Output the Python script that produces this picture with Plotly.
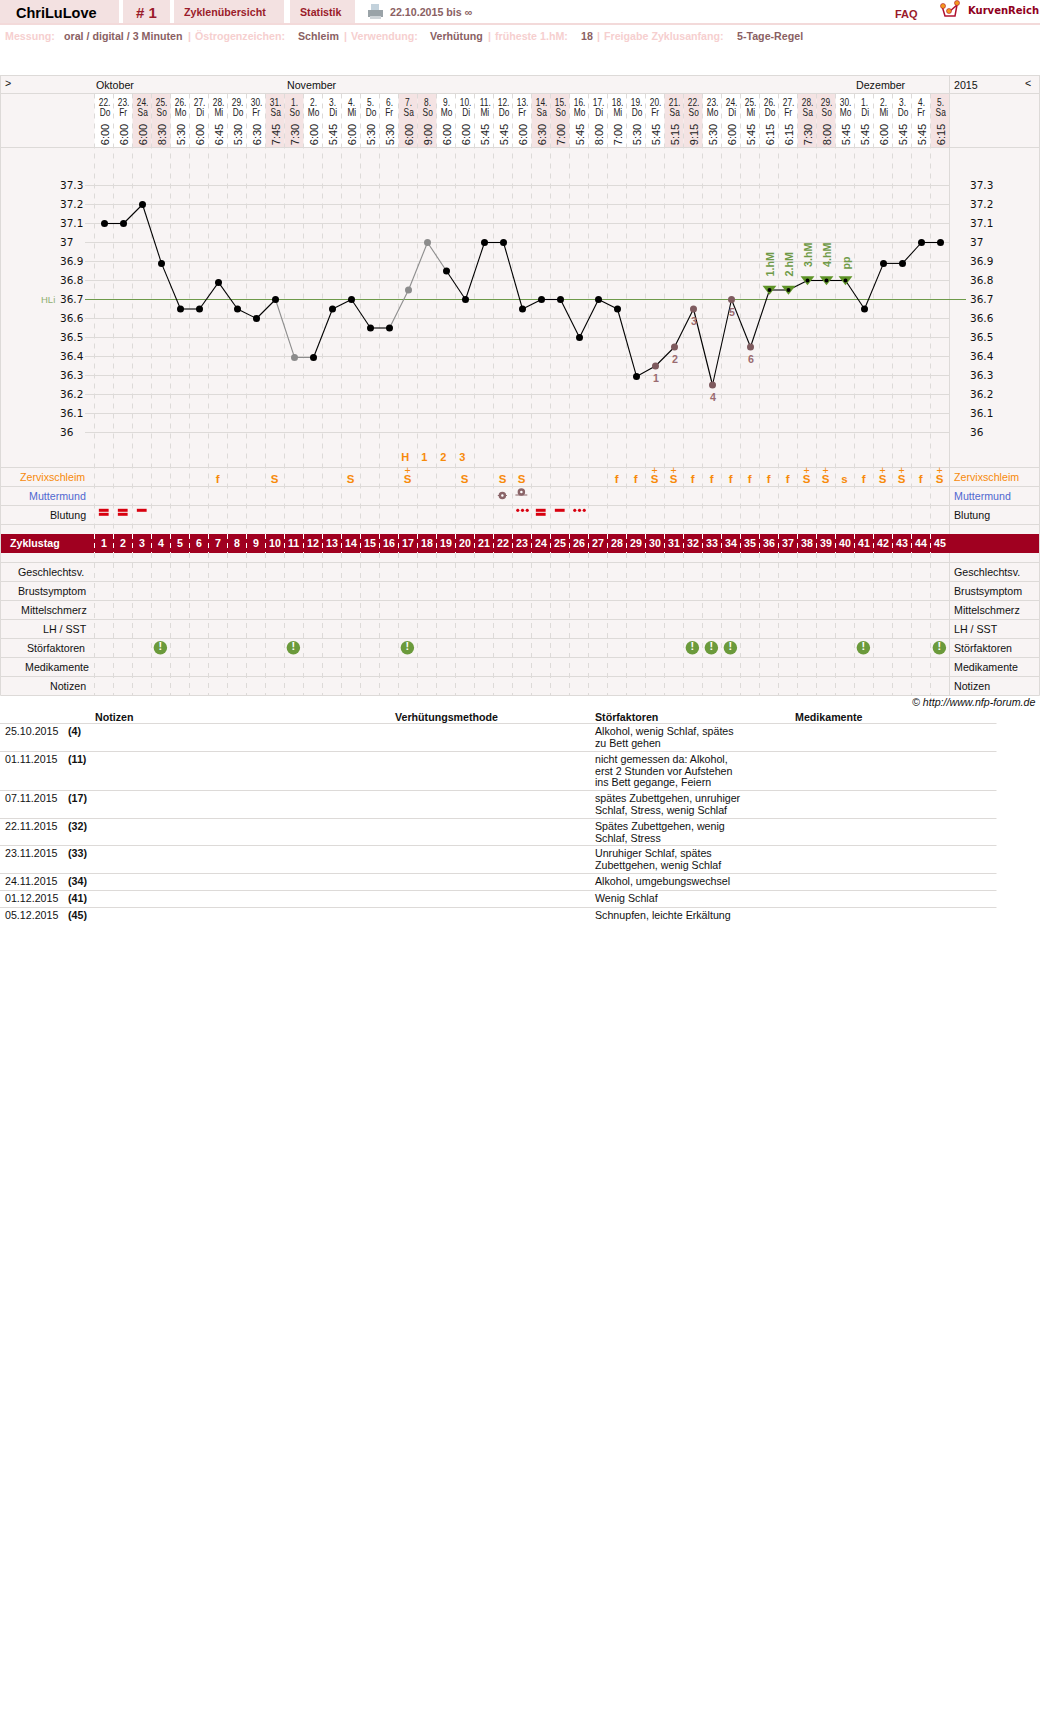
import plotly.graph_objects as go

W, H = 1040, 1720
# ---------- data ----------
cycle_days = list(range(1, 46))
date_labels = ["22.","23.","24.","25.","26.","27.","28.","29.","30.","31.","1.","2.","3.","4.","5.","6.","7.","8.","9.","10.","11.","12.","13.","14.","15.","16.","17.","18.","19.","20.","21.","22.","23.","24.","25.","26.","27.","28.","29.","30.","1.","2.","3.","4.","5."]
weekdays = ["Do","Fr","Sa","So","Mo","Di","Mi","Do","Fr","Sa","So","Mo","Di","Mi","Do","Fr","Sa","So","Mo","Di","Mi","Do","Fr","Sa","So","Mo","Di","Mi","Do","Fr","Sa","So","Mo","Di","Mi","Do","Fr","Sa","So","Mo","Di","Mi","Do","Fr","Sa"]
times = ["6:00","6:00","6:00","8:30","5:30","6:00","6:45","5:30","6:30","7:45","7:30","6:00","5:45","6:00","5:30","5:30","6:00","9:00","6:00","6:00","5:45","5:45","6:00","6:30","7:00","5:45","8:00","7:00","5:30","5:45","5:15","9:15","5:30","6:00","5:45","6:15","6:15","7:30","8:00","5:45","5:45","6:00","5:45","5:45","6:15"]
temps = [37.1,37.1,37.2,36.89,36.65,36.65,36.79,36.65,36.6,36.7,36.395,36.395,36.65,36.7,36.55,36.55,36.75,37.0,36.85,36.7,37.0,37.0,36.65,36.7,36.7,36.5,36.7,36.65,36.295,36.35,36.45,36.65,36.25,36.7,36.45,36.75,36.75,36.8,36.8,36.8,36.65,36.89,36.89,37.0,37.0]
grey_days = [11, 17, 18]
grey_segments = [(10, 11), (11, 12), (16, 17), (17, 18), (18, 19)]
low_days = [30, 31, 32, 33, 34, 35]
low_labels = ["1", "2", "3", "4", "5", "6"]
high_days = [36, 37, 38, 39, 40]
high_labels = ["1.hM", "2.hM", "3.hM", "4.hM", "pp"]
ticks = [37.3,37.2,37.1,37.0,36.9,36.8,36.7,36.6,36.5,36.4,36.3,36.2,36.1,36.0]
tick_text = ["37.3","37.2","37.1","37","36.9","36.8","36.7","36.6","36.5","36.4","36.3","36.2","36.1","36"]
hli = 36.7
peak_days = [17, 18, 19, 20]
peak_labels = ["H", "1", "2", "3"]
mucus_days = [7,10,14,17,20,22,23,28,29,30,31,32,33,34,35,36,37,38,39,40,41,42,43,44,45]
mucus_syms = ["f","S","S","S","S","S","S","f","f","S","S","f","f","f","f","f","f","S","S","s","f","S","S","f","S"]
mucus_plus = [17,30,31,38,39,42,43,45]
bleed_double = [1, 2, 24]
bleed_single = [3, 25]
bleed_dots = [23, 26]
stoer_days = [4, 11, 17, 32, 33, 34, 41, 45]
month_names = ["Oktober", "November", "Dezember"]
note_rows = [
 ("25.10.2015","(4)",["Alkohol, wenig Schlaf, spätes","zu Bett gehen"]),
 ("01.11.2015","(11)",["nicht gemessen da: Alkohol,","erst 2 Stunden vor Aufstehen","ins Bett gegange, Feiern"]),
 ("07.11.2015","(17)",["spätes Zubettgehen, unruhiger","Schlaf, Stress, wenig Schlaf"]),
 ("22.11.2015","(32)",["Spätes Zubettgehen, wenig","Schlaf, Stress"]),
 ("23.11.2015","(33)",["Unruhiger Schlaf, spätes","Zubettgehen, wenig Schlaf"]),
 ("24.11.2015","(34)",["Alkohol, umgebungswechsel"]),
 ("01.12.2015","(41)",["Wenig Schlaf"]),
 ("05.12.2015","(45)",["Schnupfen, leichte Erkältung"]),
]

# ---------- style / geometry ----------
BG="#F8F4F4"; GRID="#DDDAD8"; PINK="#F4E3E3"; DARK="#A00020"; RED="#9A1B2A"
LPINK="#F6CFCF"; BROWN="#8A5F63"; GREEN="#6B9A3B"; ORANGE="#F78A0B"; INK="#111111"
SANS="Liberation Sans"
NARROW_SIZE=10.98  # date labels; squeezed horizontally after drawing
PXD=19.0; X0=104.5; Y36=432.5; PX01=19.0
SEP=0.5+0.5/PXD  # separators sit on pixel centres
def day_px(d): return X0+(d-1)*PXD
def px_day(px): return (px-X0)/PXD+1
def py_val(py): return 36+(Y36-py)/(PX01*10)
def px_p(px): return px/W
def py_p(py): return 1-py/H

shapes=[]; ann=[]; traces=[]
def rect(x0,y0,x1,y1,fill):
    shapes.append(dict(type="rect",xref="paper",yref="paper",x0=px_p(x0),x1=px_p(x1),y0=py_p(y0),y1=py_p(y1),fillcolor=fill,line_width=0,layer="below"))
def hline(x0,x1,y,c=GRID,w=1):
    shapes.append(dict(type="line",xref="paper",yref="paper",x0=px_p(x0),x1=px_p(x1),y0=py_p(y),y1=py_p(y),line=dict(color=c,width=w),layer="below"))
def vline(x,y0,y1,c=GRID,w=1):
    shapes.append(dict(type="line",xref="paper",yref="paper",x0=px_p(x),x1=px_p(x),y0=py_p(y0),y1=py_p(y1),line=dict(color=c,width=w),layer="below"))
def text(x,y,s,size=10.67,color=INK,font=SANS,anchor="left",angle=0):
    ann.append(dict(xref="paper",yref="paper",x=px_p(x),y=py_p(y),text=s,showarrow=False,xanchor=anchor,yanchor="middle",
                    borderpad=0,borderwidth=0,textangle=angle,font=dict(size=size,color=color,family=font)))

# top bar
for x0,x1 in [(0,119),(123,170),(174,284),(290,355)]:
    rect(x0,0,x1,23,"#F3E1E1")
rect(0,23,W,25,"#F3DADA")
text(16,12.5,"<b>ChriLuLove</b>",14.5,"#000000")
text(136,12.5,"<b># 1</b>",15,RED)
text(184,12,"<b>Zyklenübersicht</b>",10.67,RED)
text(300,12,"<b>Statistik</b>",10.67,RED)
text(390,12,"<b>22.10.2015 bis ∞</b>",10.67,BROWN)
text(895,14,"<b>FAQ</b>",11,RED)
text(967.5,10,"<b>KurvenReich</b>",10,"#8F0020","DejaVu Sans")
# printer icon
rect(371,4,379,11,"#C3D2DC"); rect(368,10,383,17,"#9AA3A8"); rect(370,16,381,19,"#CFD4D8")
# logo
shapes.append(dict(type="path",xref="paper",yref="paper",
    path="M %f %f L %f %f L %f %f L %f %f L %f %f"%(px_p(942),py_p(6),px_p(945),py_p(16),px_p(955),py_p(16),px_p(957),py_p(5),px_p(949),py_p(12)),
    line=dict(color="#B01030",width=1.5),layer="below"))
for cx,cy,r in [(943,6,2.5),(949,11,2.5),(957,3,2.5)]:
    shapes.append(dict(type="circle",xref="paper",yref="paper",x0=px_p(cx-r),x1=px_p(cx+r),y0=py_p(cy+r),y1=py_p(cy-r),fillcolor="#F39A1E",line=dict(color="#B01030",width=.6),layer="below"))

# settings line
for x,s,c in [(5,"Messung:",LPINK),(64,"oral / digital / 3 Minuten",BROWN),(188,"|",LPINK),(195,"Östrogenzeichen:",LPINK),(298,"Schleim",BROWN),
              (344,"|",LPINK),(351,"Verwendung:",LPINK),(430,"Verhütung",BROWN),(488,"|",LPINK),(495,"früheste 1.hM:",LPINK),(581,"18",BROWN),
              (597,"|",LPINK),(604,"Freigabe Zyklusanfang:",LPINK),(737,"5-Tage-Regel",BROWN)]:
    text(x,36,"<b>%s</b>"%s,10.67,c)

# panels
rect(0.5,75,1039.5,695.5,BG)
rect(94.5,93.5,949.5,147,"#FFFFFF")
for d,wd in zip(cycle_days,weekdays):
    if wd in("Sa","So"):
        shapes.append(dict(type="rect",xref="x",yref="paper",x0=d-SEP,x1=d+1-SEP,y0=py_p(93.5),y1=py_p(147),fillcolor=PINK,line_width=0,layer="below"))
rect(1,534,1039,553,DARK)
for y in [75.5,93.5,147.5,467.5,486.5,505.5,524.5,562.5,581.5,600.5,619.5,638.5,657.5,676.5,695.5]:
    hline(0.5,1039.5,y)
vline(0.5,75,695.5); vline(1039.5,75,695.5); vline(949.5,75,534); vline(949.5,553,695.5)
# grid
for t in ticks:
    shapes.append(dict(type="line",xref="paper",yref="y",x0=px_p(85),x1=px_p(949.5),y0=t,y1=t,line=dict(color=GRID,width=1),layer="below"))
# day separators
for d in cycle_days:
    sx=d-SEP
    shapes.append(dict(type="line",xref="x",yref="paper",x0=sx,x1=sx,y0=py_p(93.5),y1=py_p(534),line=dict(color=GRID,width=1,dash="5px,5px"),layer="below"))
    shapes.append(dict(type="line",xref="x",yref="paper",x0=sx,x1=sx,y0=py_p(553),y1=py_p(695),line=dict(color=GRID,width=1,dash="5px,5px"),layer="below"))
    shapes.append(dict(type="line",xref="x",yref="paper",x0=sx,x1=sx,y0=py_p(534),y1=py_p(553),line=dict(color="#FFFFFF",width=1,dash="5px,4px"),layer="below"))
shapes.append(dict(type="line",xref="paper",yref="y",x0=px_p(85),x1=px_p(966),y0=hli,y1=hli,line=dict(color="#6E9A4A",width=1.2),layer="below"))

# header labels
text(5,83,">",10.67)
text(1025,83,"<",10.67)
text(96,85.5,month_names[0]); text(286.5,85.5,month_names[1]); text(856,85.5,month_names[2]); text(954,85.5,"2015")
for d,a,b,c in zip(cycle_days,date_labels,weekdays,times):
    x=day_px(d)
    text(x,101.5,a,NARROW_SIZE,"#222222",SANS,"center")
    text(x,111.7,b,NARROW_SIZE,"#222222",SANS,"center")
    text(x,134.7,c,11,"#222222",SANS,"center",-90)

# y labels
for t,s in zip(ticks,tick_text):
    ann.append(dict(xref="paper",yref="y",x=px_p(58.5),y=t,yshift=1,text=s,showarrow=False,xanchor="left",yanchor="middle",borderpad=0,font=dict(size=10.5,color=INK,family="DejaVu Sans")))
    ann.append(dict(xref="paper",yref="y",x=px_p(969),y=t,yshift=1,text=s,showarrow=False,xanchor="left",yanchor="middle",borderpad=0,font=dict(size=10.5,color=INK,family="DejaVu Sans")))
ann.append(dict(xref="paper",yref="y",x=px_p(40),y=hli,text="HLi",showarrow=False,xanchor="left",yanchor="middle",borderpad=0,font=dict(size=9.5,color="#8FAF70",family=SANS)))

# left/right labels
rows=[(477,"Zervixschleim",ORANGE,85),(496,"Muttermund","#5068D0",86),(515,"Blutung",INK,86),(572,"Geschlechtsv.",INK,84),(591,"Brustsymptom",INK,86),
      (610,"Mittelschmerz",INK,87),(629,"LH / SST",INK,87),(648,"Störfaktoren",INK,85),(667,"Medikamente",INK,89),(686,"Notizen",INK,86)]
for y,s,c,xr in rows:
    text(xr,y,s,10.67,c,SANS,"right")
    text(954,y,s,10.67,c)
text(10,543.5,"<b>Zyklustag</b>",10.67,"#FFFFFF")
for d in cycle_days:
    text(day_px(d)-1,543.5,"<b>%d</b>"%d,10.67,"#FFFFFF",SANS,"center")
text(1035,702,"<i>© http://www.nfp-forum.de</i>",10.67,INK,SANS,"right")

# temperature curve
val=dict(zip(cycle_days,temps))
gs=set(grey_segments)
for a,b in zip(cycle_days[:-1],cycle_days[1:]):
    c="#8C8C8C" if (a,b) in gs else "#000000"
    traces.append(go.Scatter(x=[a,b],y=[val[a],val[b]],mode="lines",line=dict(color=c,width=1.1)))
black=[d for d in cycle_days if d not in grey_days+low_days+high_days]
traces.append(go.Scatter(x=black,y=[val[d] for d in black],mode="markers",marker=dict(color="#000000",size=7)))
traces.append(go.Scatter(x=grey_days,y=[val[d] for d in grey_days],mode="markers",marker=dict(color="#8C8C8C",size=7)))
traces.append(go.Scatter(x=low_days,y=[val[d] for d in low_days],mode="markers",marker=dict(color="#7E5A5E",size=7)))
traces.append(go.Scatter(x=high_days,y=[val[d]+.006 for d in high_days],mode="markers",marker=dict(color="#5F9428",size=12,symbol="triangle-down")))
traces.append(go.Scatter(x=high_days,y=[val[d] for d in high_days],mode="markers",marker=dict(color="#000000",size=4)))
for d,s in zip(low_days,low_labels):
    ann.append(dict(xref="x",yref="y",x=d,y=val[d],yshift=-12,text="<b>%s</b>"%s,showarrow=False,borderpad=0,font=dict(size=10.67,color="#9A6B70",family=SANS)))
for d,s in zip(high_days,high_labels):
    ann.append(dict(xref="x",yref="y",x=d,y=val[d],yshift=25 if s!="pp" else 17.5,text="<b>%s</b>"%s,textangle=-90,showarrow=False,borderpad=0,font=dict(size=10.67,color="#6F9A47",family=SANS)))

# mucus
yS=py_val(480); yP=py_val(471); yH=py_val(458)
traces.append(go.Scatter(x=[d-.05 for d in mucus_days],y=[yS]*len(mucus_days),mode="text",text=["<b>%s</b>"%s for s in mucus_syms],textfont=dict(size=11.5,color=ORANGE,family=SANS),textposition="middle center"))
traces.append(go.Scatter(x=[d-.05 for d in mucus_plus],y=[yP]*len(mucus_plus),mode="text",text=["+"]*len(mucus_plus),textfont=dict(size=10.5,color=ORANGE,family=SANS),textposition="middle center"))
traces.append(go.Scatter(x=[d-.17 for d in peak_days],y=[yH]*len(peak_days),mode="text",text=["<b>%s</b>"%s for s in peak_labels],textfont=dict(size=11,color=ORANGE,family=SANS),textposition="middle center"))

# cervix
BRN="#8A6468"
traces.append(go.Scatter(x=[21.94],y=[py_val(495.5)],mode="markers",marker=dict(symbol="line-ew",size=6.5,line=dict(color=BRN,width=1))))
traces.append(go.Scatter(x=[21.94],y=[py_val(495.5)],mode="markers",marker=dict(symbol="circle",size=5,color="#FFFFFF",line=dict(color=BRN,width=2.5))))
traces.append(go.Scatter(x=[22.94],y=[py_val(495)],mode="markers",marker=dict(symbol="line-ew",size=8.5,line=dict(color=BRN,width=1))))
traces.append(go.Scatter(x=[22.94],y=[py_val(492)],mode="markers",marker=dict(symbol="circle",size=5,color="#FFFFFF",line=dict(color=BRN,width=2.5))))

# bleeding
ry1,ry2=py_val(510.3),py_val(514.3)
def dash(xs,y):
    traces.append(go.Scatter(x=xs,y=[y]*len(xs),mode="markers",marker=dict(symbol="line-ew",size=7,line=dict(color="#D8000F",width=3))))
dash([d-.04 for d in bleed_double],ry1); dash([d-.04 for d in bleed_double],ry2); dash([d-.04 for d in bleed_single],ry1)
dx=[]
for d in bleed_dots: dx+= [d-.25,d,d+.25]
traces.append(go.Scatter(x=dx,y=[ry1]*len(dx),mode="markers",marker=dict(size=3.2,color="#D8000F")))

# disturbances
sy=py_val(647.7)
traces.append(go.Scatter(x=[d-.06 for d in stoer_days],y=[sy]*len(stoer_days),mode="markers+text",text=["<b>!</b>"]*len(stoer_days),textposition="middle center",
    marker=dict(size=13.5,color=GREEN),textfont=dict(size=11,color="#FFFFFF",family=SANS)))

# notes table
for x,s in [(95,"Notizen"),(395,"Verhütungsmethode"),(595.3,"Störfaktoren"),(795,"Medikamente")]:
    text(x,716.7,"<b>%s</b>"%s)
sep=[723.5,751.5,790.5,818.5,845.5,873.5,890.5,907.5]
for y in sep: hline(0,996.5,y)
for (dt,cd,lines),y in zip(note_rows,sep):
    text(5,y+7.6,dt); text(68,y+7.6,"<b>%s</b>"%cd)
    for i,l in enumerate(lines):
        text(595.3,y+7.6+i*11.5,l)

fig=go.Figure(traces)
fig.update_layout(width=W,height=H,margin=dict(l=0,r=0,t=0,b=0,pad=0),paper_bgcolor="#FFFFFF",plot_bgcolor="rgba(0,0,0,0)",
    showlegend=False,hovermode=False,shapes=shapes,annotations=ann,
    xaxis=dict(range=[px_day(0),px_day(W)],visible=False,fixedrange=True,domain=[0,1]),
    yaxis=dict(range=[py_val(H),py_val(0)],visible=False,fixedrange=True,domain=[0,1]))
post="""document.body.style.margin='0';document.documentElement.style.overflow='hidden';
document.querySelectorAll('.annotation-text').forEach(function(t){
  if(parseFloat(t.style.fontSize)===%s){
    t.setAttribute('lengthAdjust','spacingAndGlyphs');
    t.setAttribute('textLength',t.getComputedTextLength()*0.76);
  }
});"""%NARROW_SIZE
fig.write_html("out.html",config=dict(displayModeBar=False),post_script=post)
